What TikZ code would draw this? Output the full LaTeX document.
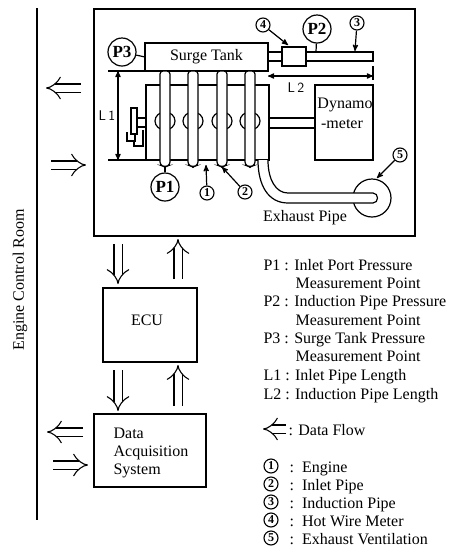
\documentclass[tikz,border=0pt]{standalone}
\usepackage{fontspec}
\setmainfont{Liberation Serif}
\usepackage{tikz}
\usetikzlibrary{arrows,shapes.geometric}
\usetikzlibrary{positioning}
\tikzstyle{box}  =
[
	draw,rectangle,line width=1.2pt,inner sep=0pt,fill=white
]
\tikzstyle{pcircle} =
[
	draw,circle,line width=1.2pt,inner sep=0pt,minimum size=28pt,
	font=\fontsize{17}{17}\selectfont\bfseries
]
\tikzstyle{numcircle} =
[
	draw,circle,line width=1.1pt,inner sep=0pt,minimum size=14pt,
	font=\fontsize{12}{12}\selectfont\bfseries
]
\tikzstyle{legend} =
[
	anchor=base west,inner sep=0pt
]
\tikzstyle{flow} =
[
	-implies,double,double distance=7pt,line width=1.1pt
]
\tikzstyle{pipe} =
[
	-,draw,fill=white,line width=1.2pt
]

\begin{document}
\begin{tikzpicture}[->,>=stealth',x=1pt,y=-1pt,line width=1.2pt,
	every node/.append style={font=\fontsize{16}{18}\selectfont}]
\useasboundingbox (0,0) rectangle (450,547);

% control room wall
\coordinate (W1) at (37,8);
\coordinate (W2) at (37,520);
\path (W1) edge[-] (W2);
\node[rotate=90,inner sep=0pt] (room) at (20,280) {Engine Control Room};

% boxes
\node[box,minimum width=321pt,minimum height=227pt] (lab) at (254.5,122.5) {};
\node[box,minimum width=123pt,minimum height=75pt] (engine) at (207.5,122.5) {};
\node[box,minimum width=58pt,minimum height=75pt,align=center] (dyno) at (344,122.5) {};
\node[inner sep=0pt] (dynotop) at (345,105) {Dynamo};
\node[inner sep=0pt,below=6pt of dynotop.south,anchor=north,xshift=-3pt] (dynobot) {-meter};
\node[box,minimum width=123pt,minimum height=28pt] (tank) at (206.5,57) {Surge Tank};
\node[box,minimum width=94pt,minimum height=74pt] (ECU) at (150,325) {};
\node[inner sep=0pt] (ECUtext) at (147,320) {ECU};
\node[box,minimum width=112pt,minimum height=73pt] (DAS) at (150,450.5) {};
\node[inner sep=0pt,anchor=north west,align=left] (DAStext) at (113,427) {Data\\Acquisition\\System};

% inlet pipes
\foreach \px/\pname in {165/a,193/b,222/c,250/d}{
	\node[draw,ellipse,minimum width=20pt,minimum height=18pt,inner sep=0pt] (bulge\pname) at (\px,121) {};
	\draw[pipe,rounded corners=3pt] (\px-5,71) -- (\px-5,165) -- (\px,167) -- (\px+5,165) -- (\px+5,71) -- cycle;
}

% side fitting
\draw[-] (137,118) -- (146,118) (137,127) -- (146,127);
\draw[pipe] (131,108) rectangle (137,134);
\draw[-] (127,132) -- (127,141) -- (135,141) -- (135,134);
\draw[-] (143,130) -- (143,146) -- (134,146) -- (134,141);

% induction pipe
\draw[pipe] (268,52) rectangle (373,61);
\node[box,minimum width=24pt,minimum height=19pt] (meter) at (294,56.5) {};

% dynamo shaft
\draw[pipe] (269,118) rectangle (315,128);

% exhaust
\node[draw,circle,minimum size=38pt,inner sep=0pt] (vent) at (372,198) {};
\draw[pipe] (258,160) .. controls (258,185) and (268,203) .. (288,203) -- (373,203)
	.. controls (379,203) and (379,193) .. (373,193) -- (288,193)
	.. controls (276,193) and (268,180) .. (268,160);
\node[inner sep=0pt] (exhaust) at (305,218) {Exhaust Pipe};

% measurement points
\node[pcircle,fill=white] (P3) at (122,52) {P3};
\node[pcircle] (P2) at (317,29) {P2};
\node[pcircle] (P1) at (165,187) {P1};
\coordinate (P3t) at (145,57);
\coordinate (P2t) at (316,52);
\coordinate (P1t) at (165,167);
\path
	(P3) edge[-] (P3t)
	(P2) edge[-] (P2t)
	(P1) edge[-] (P1t);

% numbered marks
\node[numcircle] (N1) at (207,193) {1};
\node[numcircle] (N2) at (245,192) {2};
\node[numcircle] (N3) at (357,23) {3};
\node[numcircle] (N4) at (263,25) {4};
\node[numcircle] (N5) at (400,155) {5};
\coordinate (N1t) at (206,165);
\coordinate (N2t) at (222,167);
\coordinate (N3t) at (355,51);
\coordinate (N4t) at (288,45);
\coordinate (N5t) at (377,178);
\path
	(N1) edge (N1t)
	(N2) edge (N2t)
	(N3) edge (N3t)
	(N4) edge (N4t)
	(N5) edge (N5t);

% lengths
\coordinate (L1a) at (108,71);
\coordinate (L1b) at (144,71);
\coordinate (L1c) at (108,160);
\coordinate (L1d) at (146,160);
\coordinate (L1e) at (118,71);
\coordinate (L1f) at (118,160);
\coordinate (L2a) at (268,76);
\coordinate (L2b) at (373,76);
\coordinate (L2c) at (373,66);
\coordinate (L2d) at (373,80);
\path
	(L1a) edge[-] (L1b)
	(L1c) edge[-] (L1d)
	(L1e) edge[<->] (L1f)
	(L2a) edge[<->] (L2b)
	(L2c) edge[-] (L2d);
\node[inner sep=0pt,font=\fontsize{14}{14}\selectfont\sffamily] (L1) at (107,116) {L\,1};
\node[inner sep=0pt,font=\fontsize{14}{14}\selectfont\sffamily] (L2) at (296,88) {L\,2};

% data flow
\coordinate (A1a) at (81,88);    \coordinate (A1b) at (46,88);
\coordinate (A2a) at (51,165);   \coordinate (A2b) at (86,165);
\coordinate (A3a) at (118,244);  \coordinate (A3b) at (118,284);
\coordinate (A4a) at (178,279);  \coordinate (A4b) at (178,239);
\coordinate (A5a) at (118,370);  \coordinate (A5b) at (118,411);
\coordinate (A6a) at (178,406);  \coordinate (A6b) at (178,365);
\coordinate (A7a) at (83,432);   \coordinate (A7b) at (47,432);
\coordinate (A8a) at (53,465);   \coordinate (A8b) at (88,465);
\foreach \fa in {1,...,8}{
	\draw[flow] (A\fa a) -- (A\fa b);
}

% legend
\node[legend] (T1) at (263,270) {P1 : Inlet Port Pressure};
\node[legend] (T2) at (295,288) {Measurement Point};
\node[legend] (T3) at (263,306.5) {P2 : Induction Pipe Pressure};
\node[legend] (T4) at (295,325) {Measurement Point};
\node[legend] (T5) at (263,343) {P3 : Surge Tank Pressure};
\node[legend] (T6) at (295,361.5) {Measurement Point};
\node[legend] (T7) at (263,380) {L1 : Inlet Pipe Length};
\node[legend] (T8) at (263,399) {L2 : Induction Pipe Length};
\coordinate (Ta) at (286,429);
\coordinate (Tb) at (263,429);
\draw[flow] (Ta) -- (Tb);
\node[legend] (T9) at (288,435) {: Data Flow};
\node[numcircle] (K1) at (271,466) {1};
\node[numcircle] (K2) at (271,484) {2};
\node[numcircle] (K3) at (271,502) {3};
\node[numcircle] (K4) at (271,520) {4};
\node[numcircle] (K5) at (271,538) {5};
\node[legend] (E1) at (289,472) {:\ \ Engine};
\node[legend] (E2) at (289,490) {:\ \ Inlet Pipe};
\node[legend] (E3) at (289,508) {:\ \ Induction Pipe};
\node[legend] (E4) at (289,526) {:\ \ Hot Wire Meter};
\node[legend] (E5) at (289,544) {:\ \ Exhaust Ventilation};

\end{tikzpicture}
\end{document}
